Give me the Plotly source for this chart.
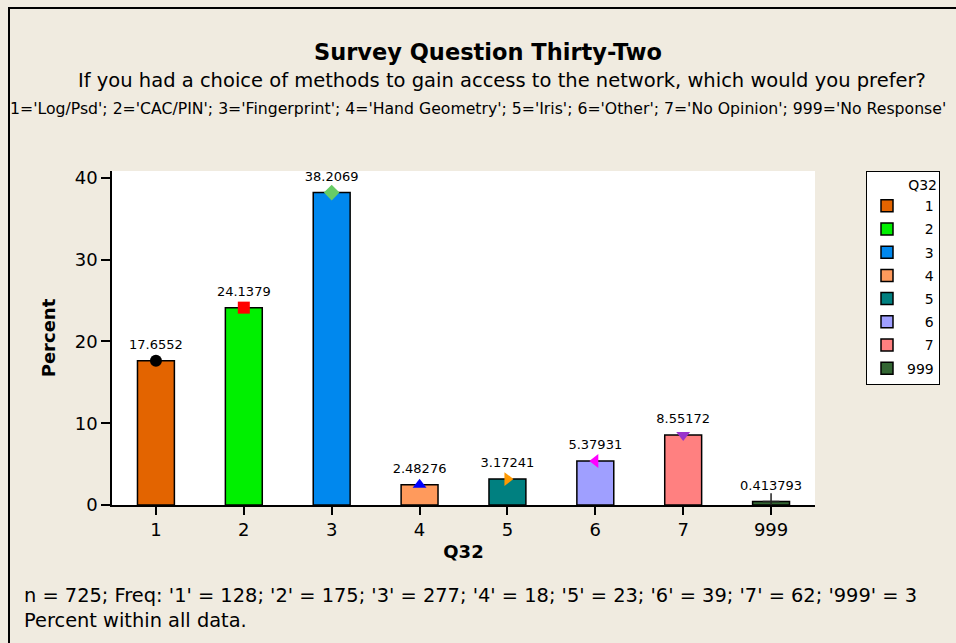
import plotly.graph_objects as go

# survey responses for question 32
categories = ["1", "2", "3", "4", "5", "6", "7", "999"]
percents = [17.6552, 24.1379, 38.2069, 2.48276, 3.17241, 5.37931, 8.55172, 0.413793]
bar_colors = ["#E36400", "#00F000", "#0088EE", "#FF9A5C", "#008080", "#9F9FFF", "#FF8080", "#336633"]
marker_symbols = ["circle", "square", "diamond", "triangle-up", "triangle-right",
                  "triangle-left", "triangle-down", "cross-thin"]
marker_colors = ["#000000", "#FF0000", "#66CC66", "#0000FF", "#FF9900", "#FF00FF", "#9933CC", "#222222"]
y_ticks = [0, 10, 20, 30, 40]

W, H = 956, 643
L, R, T, B = 112, 815, 171, 505  # plot area in pixels
FONT = "DejaVu Sans"
BG = "#F0EBE0"


def px(x, y):
    """pixel position -> paper coordinates"""
    return (x - L) / (R - L), (B - y) / (B - T)


fig = go.Figure()

for cat, val, col in zip(categories, percents, bar_colors):
    fig.add_trace(go.Bar(
        x=[cat], y=[val], name=cat.rjust(3, "\u2007"), width=0.42,
        marker=dict(color=col, line=dict(color="black", width=1.5)),
        legendgroup=cat, hoverinfo="skip"
    ))

fig.add_trace(go.Scatter(
    x=categories, y=percents, mode="markers+text",
    text=[f"{v:g}" for v in percents], textposition="top center",
    textfont=dict(family=FONT, size=13, color="black"),
    marker=dict(symbol=marker_symbols, color=marker_colors, size=12,
                line=dict(width=[0] * 7 + [1.5], color="#222222")),
    showlegend=False, cliponaxis=False
))

tick_font = dict(family=FONT, size=18, color="black")
title_font = dict(family=FONT, size=18, color="black")
fig.update_layout(
    width=W, height=H,
    margin=dict(l=L, r=W - R, t=T, b=H - B),
    paper_bgcolor=BG, plot_bgcolor="white",
    barmode="overlay",
    showlegend=True,
    xaxis=dict(type="category", categoryorder="array", categoryarray=categories,
               range=[-0.5, 7.5], showline=True, linecolor="black", linewidth=1.5,
               ticks="outside", ticklen=8, tickcolor="black", tickwidth=1.5,
               tickfont=tick_font, showgrid=False, zeroline=False,
               title=dict(text="<b>Q32</b>", font=title_font, standoff=6)),
    xaxis2=dict(overlaying="x", side="top", anchor="y", range=[-0.5, 7.5],
                tickvals=list(range(len(categories))), ticktext=categories,
                ticks="outside", ticklen=8, tickcolor="black", tickwidth=1.5,
                tickfont=tick_font, showgrid=False, zeroline=False, showline=False),
    yaxis=dict(range=[0, 40.85], tickvals=y_ticks, showline=True, linecolor="black",
               linewidth=1.5, ticks="outside", ticklen=9, tickcolor="black", tickwidth=1.5,
               tickfont=tick_font, showgrid=False, zeroline=False,
               title=dict(text="<b>Percent</b>", font=title_font, standoff=14)),
    yaxis2=dict(overlaying="y", side="right", anchor="x", range=[0, 40.85], tickvals=y_ticks,
                showline=True, linecolor="black", linewidth=1.5, ticks="outside", ticklen=9,
                tickcolor="black", tickwidth=1.5, tickfont=tick_font, showgrid=False,
                zeroline=False),
    legend=dict(
        title=dict(text="Q32", font=dict(family=FONT, size=14), side="top right"),
        font=dict(family=FONT, size=14, color="black"),
        bgcolor="white", bordercolor="black", borderwidth=1,
        x=px(866, 0)[0], y=px(0, 171)[1], xanchor="left", yanchor="top",
        tracegroupgap=2, itemwidth=30, entrywidth=34
    ),
)

ann_font = dict(family=FONT, color="black")
texts = [
    ("<b>Survey Question Thirty-Two</b>", 488, 52, 22.5, "center"),
    ("If you had a choice of methods to gain access to the network, which would you prefer?", 502, 80, 19.5, "center"),
    ("1='Log/Psd'; 2='CAC/PIN'; 3='Fingerprint'; 4='Hand Geometry'; 5='Iris'; 6='Other'; "
     "7='No Opinion'; 999='No Response'", 478, 108, 15.7, "center"),
    ("n = 725; Freq: '1' = 128; '2' = 175; '3' = 277; '4' = 18; '5' = 23; '6' = 39; '7' = 62; '999' = 3",
     22, 595, 19.4, "left"),
    ("Percent within all data.", 22, 620, 19.4, "left"),
]
for txt, x, y, size, anchor in texts:
    ax, ay = px(x, y)
    fig.add_annotation(text=txt, x=ax, y=ay, xref="paper", yref="paper", showarrow=False,
                       xanchor=anchor, yanchor="middle", font=dict(ann_font, size=size))

# outer frame of the graph window
x0, y0 = px(9, 8)
x1, y1 = px(990, 680)
fig.add_shape(type="rect", xref="paper", yref="paper", x0=x0, y0=y1, x1=x1, y1=y0,
              line=dict(color="black", width=2), layer="below")

fig.write_html("out.html", config={"displayModeBar": False}, post_script=(
    "document.body.style.margin='0px';"
    f"document.body.style.background='{BG}';"
))
